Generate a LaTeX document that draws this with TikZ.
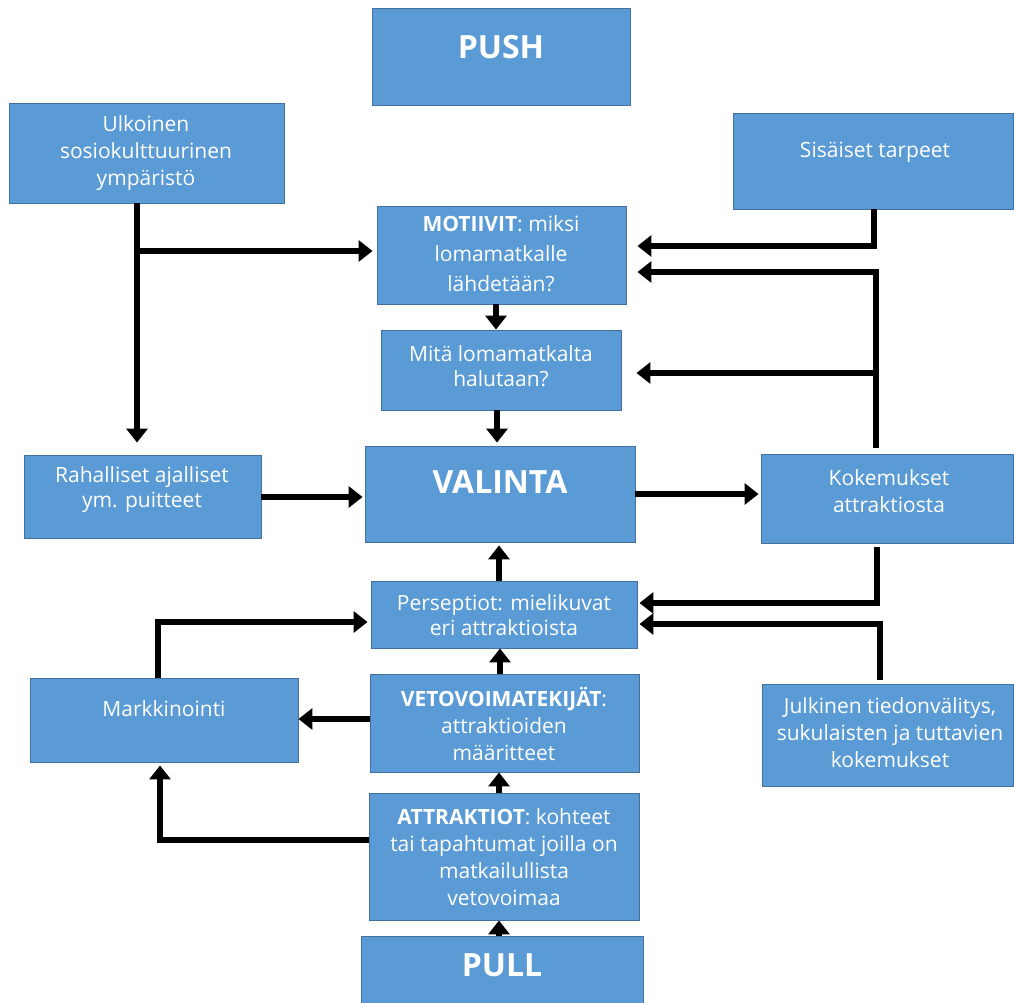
\documentclass[tikz,border=0pt]{standalone}
\usepackage{fontspec}
\setmainfont{Open Sans}
\usetikzlibrary{arrows.meta,calc}
\definecolor{boxfill}{HTML}{5B9BD5}
\definecolor{boxline}{HTML}{41719C}
\tikzset{
  box/.style={draw=boxline, line width=0.9pt, fill=boxfill, rectangle, inner sep=0pt},
  txt/.style={text=white, align=center, inner sep=0pt, font=\fontsize{21}{27}\selectfont},
  big/.style={text=white, inner sep=0pt, font=\fontsize{32}{36}\selectfont\bfseries},
  conn/.style={line width=5.5pt, -{Triangle[width=21pt,length=14pt]}}
}
\newcommand{\mkbox}[5]{\node[box, minimum width={#4-#2}, minimum height={#5-#3}] (#1) at ({(#2+#4)/2},{(#3+#5)/2}) {};}
\begin{document}
\begin{tikzpicture}[x=1pt,y=-1pt]
\useasboundingbox (0,0) rectangle (1014,1003);
\fill[white] (0,0) rectangle (1014,1003);
% boxes
\mkbox{push}{372}{8}{630}{105}
\mkbox{ulk}{9}{103}{284}{203}
\mkbox{sis}{733}{113}{1013}{209}
\mkbox{mot}{377}{206}{626}{304}
\mkbox{mita}{381}{330}{621}{410}
\mkbox{rah}{24}{455}{261}{538}
\mkbox{val}{365}{446}{635}{542}
\mkbox{kok}{761}{454}{1013}{543}
\mkbox{pers}{371}{581}{637}{648}
\mkbox{mark}{30}{678}{298}{762}
\mkbox{veto}{370}{674}{639}{772}
\mkbox{jul}{762}{684}{1013}{786}
\mkbox{attr}{369}{793}{639}{920}
\mkbox{pull}{361}{936}{643}{1010}
% texts
\node[big] (push-t) at (501,47) {PUSH};
\node[txt] (ulk-t) at (146,153) {Ulkoinen\\sosiokulttuurinen\\ympäristö};
\node[txt] (sis-t) at (875,152) {Sisäiset tarpeet};
\node[txt, font=\fontsize{21}{30}\selectfont] (mot-t) at (501,254) {\textbf{MOTIIVIT}: miksi\\lomamatkalle\\lähdetään?};
\node[txt, font=\fontsize{21}{25}\selectfont] (mita-t) at (501,366) {Mitä lomamatkalta\\halutaan?};
\node[txt, font=\fontsize{21}{25}\selectfont] (rah-t) at (142,490) {Rahalliset ajalliset\\ym. puitteet};
\node[big] (val-t) at (500,482) {VALINTA};
\node[txt] (kok-t) at (889,491) {Kokemukset\\attraktiosta};
\node[txt, font=\fontsize{21}{25}\selectfont] (pers-t) at (504,615) {Perseptiot: mielikuvat\\eri attraktioista};
\node[txt] (mark-t) at (164,709) {Markkinointi};
\node[txt] (veto-t) at (504,724) {\textbf{VETOVOIMATEKIJÄT}:\\attraktioiden\\määritteet};
\node[txt] (jul-t) at (890,733) {Julkinen tiedonvälitys,\\sukulaisten ja tuttavien\\kokemukset};
\node[txt] (attr-t) at (504,857) {\textbf{ATTRAKTIOT}: kohteet\\tai tapahtumat joilla on\\matkailullista\\vetovoimaa};
\node[big] (pull-t) at (502,965) {PULL};
% connectors
\coordinate (jL) at (137,251);
\coordinate (jR) at (876,373);
\draw[conn, shorten >=12pt] (ulk.south -| 137,0) -- (rah.north -| 137,0);
\draw[conn, shorten >=4pt] (jL) -- (mot.west |- jL);
\draw[conn, shorten >=11pt] (sis.south -| 874,0) |- (mot.east |- 0,246);
\draw[conn, shorten <=6pt, shorten >=11pt] (kok.north -| 876,0) |- (mot.east |- 0,272);
\draw[conn, shorten >=15pt] (jR) -- (mita.east |- jR);
\draw[conn] (mot.south -| 496,0) -- (mita.north -| 496,0);
\draw[conn, shorten >=3pt] (mita.south -| 497,0) -- (val.north -| 497,0);
\draw[conn, shorten >=2pt] (rah.east |- 0,497) -- (val.west |- 0,497);
\draw[conn, shorten >=2pt] (val.east |- 0,494) -- (kok.west |- 0,494);
\draw[conn, shorten >=3pt] (pers.north -| 499,0) -- (val.south -| 499,0);
\draw[conn, shorten <=4pt, shorten >=2pt] (kok.south -| 877,0) |- (pers.east |- 0,603);
\draw[conn, shorten <=4pt, shorten >=2pt] (jul.north -| 880,0) |- (pers.east |- 0,624);
\draw[conn, shorten >=3pt] (mark.north -| 158,0) |- (pers.west |- 0,622);
\draw[conn] (veto.north -| 500,0) -- (pers.south -| 500,0);
\draw[conn] (veto.west |- 0,719) -- (mark.east |- 0,719);
\draw[conn] (attr.north -| 499,0) -- (veto.south -| 499,0);
\draw[conn, shorten >=3pt] (attr.west |- 0,840) -| (mark.south -| 160,0);
\draw[conn] (pull.north -| 499,0) -- (attr.south -| 499,0);
\end{tikzpicture}
\end{document}
